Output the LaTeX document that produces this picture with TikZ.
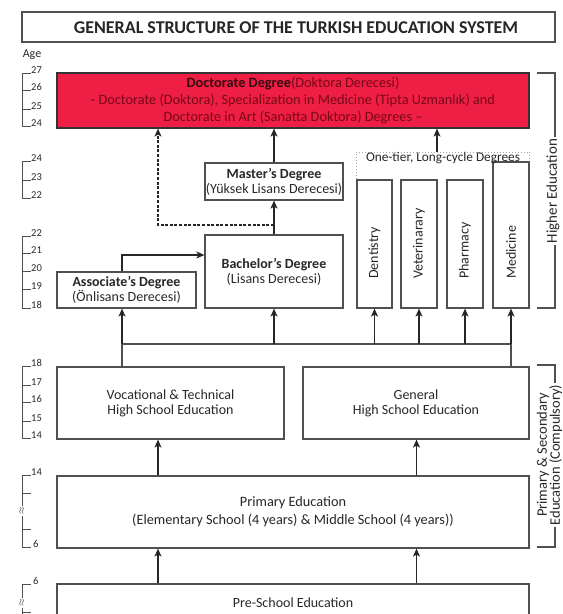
\documentclass[tikz,border=0pt]{standalone}
\usepackage{fontspec}
\setmainfont{Carlito}
\usetikzlibrary{arrows.meta}
\definecolor{docred}{RGB}{238,30,68}
\definecolor{docbold}{RGB}{55,8,15}
\definecolor{doctext}{RGB}{120,8,25}
\definecolor{boxline}{RGB}{80,80,80}
\definecolor{txt}{RGB}{40,40,40}
\begin{document}
\begin{tikzpicture}[x=1pt,y=-1pt,
  box/.style={draw=boxline, line width=1.2pt, rectangle, inner sep=0pt, align=center, text=txt, font=\fontsize{14}{15}\selectfont},
  conn/.style={draw=black!85, line width=1.1pt},
  arr/.style={conn, -{Stealth[length=8pt,width=7pt,inset=2pt]}},
  dasharr/.style={arr, dash pattern=on 3pt off 1.6pt},
  scl/.style={draw=boxline, line width=0.9pt},
  agenum/.style={anchor=west, inner sep=0pt, text=txt, font=\fontsize{10.5}{12}\selectfont},
  approx/.style={rotate=90, fill=white, inner sep=0.8pt, text=txt, font=\fontsize{10}{10}\selectfont},
  collab/.style={rotate=90, anchor=west, inner sep=0pt, text=txt, font=\fontsize{14}{15}\selectfont},
  brk/.style={draw=boxline, line width=1.2pt},
  brklab/.style={rotate=90, fill=white, inner sep=2pt, align=center, text=txt, font=\fontsize{14.5}{13}\selectfont}
]
\useasboundingbox (0,0) rectangle (563,614);
\fill[white] (0,0) rectangle (563,614);
\clip (0,0) rectangle (563,614);

% title
\node[box, minimum width=533pt, minimum height=30pt] (title) at (288.5,27) {};
\node[text=black!85, font=\fontsize{18}{20}\selectfont\bfseries] (titletext) at (296,27.5) {GENERAL STRUCTURE OF THE TURKISH EDUCATION SYSTEM};

% age label
\node[agenum, anchor=center, font=\fontsize{12}{12}\selectfont] (agehead) at (32,55) {Age};

% doctorate
\node[box, draw=black!80, fill=docred, text=doctext, minimum width=472pt, minimum height=55pt, font=\fontsize{14.3}{17}\selectfont] (doc) at (293,100.5)
 {\textcolor{docbold}{\bfseries Doctorate Degree}(Doktora Derecesi)\\
  - Doctorate (Doktora), Specialization in Medicine (Tipta Uzmanlık) and\\
  Doctorate in Art (Sanatta Doktora) Degrees –};

% higher education boxes
\node[box, minimum width=138pt, minimum height=37pt] (mas) at (274,181.5)
 {{\bfseries Master's Degree}\\(Yüksek Lisans Derecesi)};
\node[box, minimum width=138pt, minimum height=73pt] (bach) at (274,271.5)
 {{\bfseries Bachelor's Degree}\\(Lisans Derecesi)};
\node[box, minimum width=139pt, minimum height=36pt] (assoc) at (126.5,290)
 {{\bfseries Associate's Degree}\\(Önlisans Derecesi)};

\node[box, minimum width=35pt, minimum height=128pt] (dent) at (374.5,244) {};
\node[box, minimum width=36pt, minimum height=128pt] (vet) at (419,244) {};
\node[box, minimum width=36pt, minimum height=128pt] (pharm) at (465,244) {};
\node[box, minimum width=36pt, minimum height=146pt] (med) at (511,235) {};
\node[collab] (dentl) at (374.5,279) {Dentistry};
\node[collab] (vetl) at (419,279) {Veterinarary};
\node[collab] (pharml) at (465,279) {Pharmacy};
\node[collab] (medl) at (511,279) {Medicine};

\coordinate (ot) at (0,152);
\draw[draw=gray!70, line width=1pt, dotted] (dent.north west) -- (dent.north west |- ot) -- (med.north east |- ot) -- (med.north east);
\node[inner sep=0pt, text=txt, font=\fontsize{13.3}{15}\selectfont] (otlab) at (443,158) {One-tier, Long-cycle Degrees};

% secondary / primary / pre-school
\node[box, minimum width=227pt, minimum height=72pt] (voc) at (170.5,403)
 {Vocational \& Technical\\High School Education};
\node[box, minimum width=226pt, minimum height=72pt] (gen) at (416,403)
 {General\\High School Education};
\node[box, minimum width=472pt, minimum height=72pt, font=\fontsize{14.3}{18}\selectfont] (prim) at (293,512)
 {Primary Education\\(Elementary School (4 years) \& Middle School (4 years))};
\node[box, minimum width=472pt, minimum height=72pt] (pre) at (293,620) {};
\node[inner sep=0pt, text=txt, font=\fontsize{14}{15}\selectfont] (pretext) at (293,603) {Pre-School Education};

% connectors: higher education
\draw[arr] (mas.north) -- (doc.south -| mas.north);
\draw[arr] (bach.north) -- (mas.south);
\coordinate (dj) at (274,225);
\coordinate (dl) at (158,225);
\draw[dasharr] (dj) -- (dl) -- (doc.south -| dl);
\coordinate (otarrow) at (437,152);
\draw[arr] (otarrow) -- (doc.south -| otarrow);
\coordinate (ab) at (122,255);
\draw[arr] (assoc.north -| ab) |- (bach.west |- ab);

% bus from high schools
\coordinate (bx1) at (122,344);
\coordinate (busy) at (0,344);
\draw[conn, draw=boxline] (voc.north -| bx1) -- (bx1) -- (med.south |- busy) -- (gen.north -| med.south);
\draw[arr] (bx1) -- (assoc.south -| bx1);
\draw[arr] (bach.south |- busy) -- (bach.south);
\draw[arr] (dent.south |- busy) -- (dent.south);
\draw[arr] (vet.south |- busy) -- (vet.south);
\draw[arr] (pharm.south |- busy) -- (pharm.south);
\draw[arr] (med.south |- busy) -- (med.south);

% primary -> high school, pre -> primary
\coordinate (px1) at (158,0);
\coordinate (px2) at (416.5,0);
\draw[arr] (prim.north -| px1) -- (voc.south -| px1);
\draw[arr] (prim.north -| px2) -- (gen.south -| px2);
\draw[arr] (pre.north -| px1) -- (prim.south -| px1);
\draw[arr] (pre.north -| px2) -- (prim.south -| px2);

% right brackets
\draw[brk] (537,73) -- (555,73) -- (555,308) -- (537,308);
\node[brklab, font=\fontsize{15}{16}\selectfont] (helab) at (553,191) {Higher Education};
\draw[brk] (537,365) -- (555,365) -- (555,547) -- (537,547);
\node[brklab] (pslab) at (549.5,455) {Primary \& Secondary\\Education (Compulsory)};

% age scales
\draw[scl] (22,73) -- (22,126);
\foreach \y/\n in {73/27, 90/26, 109/25, 126/24}{
  \draw[scl] (22,\y) -- (31,\y);
  \node[agenum] (ga-\n) at (31,\y-3) {\n};}
\draw[scl] (22,161) -- (22,198);
\foreach \y/\n in {161/24, 180/23, 198/22}{
  \draw[scl] (22,\y) -- (31,\y);
  \node[agenum] (gb-\n) at (31,\y-3) {\n};}
\draw[scl] (22,236) -- (22,308);
\foreach \y/\n in {236/22, 253/21, 271/20, 289/19, 308/18}{
  \draw[scl] (22,\y) -- (31,\y);
  \node[agenum] (gc-\n) at (31,\y-3) {\n};}
\draw[scl] (22,366) -- (22,438);
\foreach \y/\n in {366/18, 385/17, 402/16, 421/15, 438/14}{
  \draw[scl] (22,\y) -- (31,\y);
  \node[agenum] (gd-\n) at (31,\y-3) {\n};}
\draw[scl] (22,475) -- (22,547);
\foreach \y in {475,493,529,547}{\draw[scl] (22,\y) -- (31,\y);}
\node[agenum] (ge-14) at (31,472) {14};
\node[agenum] (ge-6) at (33,544) {6};
\node[approx] (ge-ap) at (22,511) {$\approx$};
\draw[scl] (22,584) -- (22,620);
\foreach \y in {584,612}{\draw[scl] (22,\y) -- (31,\y);}
\node[agenum] (gf-6) at (33,581) {6};
\node[approx] (gf-ap) at (22,603) {$\approx$};
\end{tikzpicture}
\end{document}
